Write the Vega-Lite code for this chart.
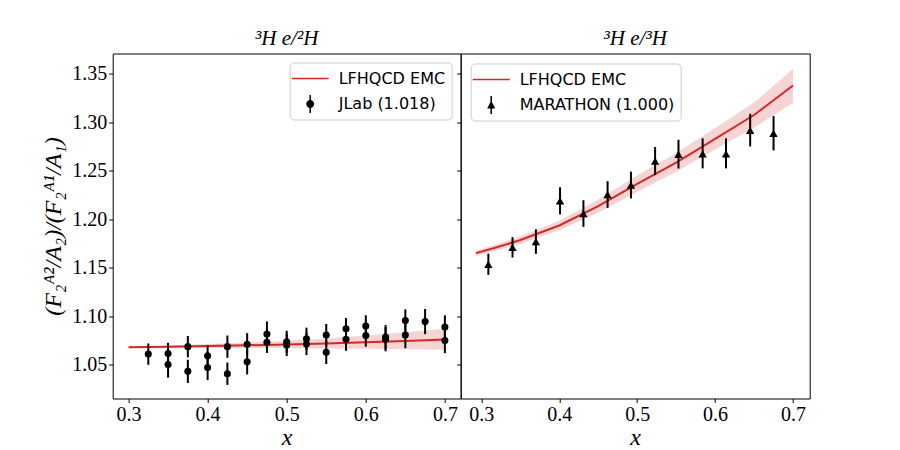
{
  "$schema": "https://vega.github.io/schema/vega-lite/v6.json",
  "background": "white",
  "autosize": {"type": "none"},
  "padding": {"left": 112.7, "top": 53.5, "right": 787.3, "bottom": 396.5},
  "bounds": "flush",
  "spacing": 0,
  "config": {
    "view": {"stroke": "black", "strokeWidth": 1},
    "axis": {
      "grid": false,
      "domain": false,
      "tickColor": "black",
      "tickSize": 4,
      "tickWidth": 1,
      "labelFont": "Liberation Serif",
      "labelFontSize": 20,
      "labelColor": "black",
      "labelPadding": 2,
      "titleFont": "Liberation Serif",
      "titleFontWeight": "normal",
      "titleColor": "black"
    },
    "title": {"font": "Liberation Serif", "fontStyle": "italic", "fontWeight": "normal", "fontSize": 21, "color": "black", "offset": 5, "anchor": "middle"},
    "legend": {
      "title": null,
      "padding": 6,
      "fillColor": "white",
      "strokeColor": "#cccccc",
      "cornerRadius": 4,
      "labelFont": "DejaVu Sans",
      "labelFontSize": 16,
      "labelColor": "black",
      "symbolSize": 400,
      "symbolStrokeWidth": 0,
      "labelOffset": 23,
      "rowPadding": 7.5
    }
  },
  "datasets": {
    "jcurve": [
      {"x": 0.30, "y": 1.0678, "lo": 1.0671, "hi": 1.0686},
      {"x": 0.35, "y": 1.0684, "lo": 1.0672, "hi": 1.0698},
      {"x": 0.40, "y": 1.0691, "lo": 1.0672, "hi": 1.0712},
      {"x": 0.45, "y": 1.0699, "lo": 1.0671, "hi": 1.0728},
      {"x": 0.50, "y": 1.0708, "lo": 1.0669, "hi": 1.0747},
      {"x": 0.55, "y": 1.0718, "lo": 1.0667, "hi": 1.0770},
      {"x": 0.60, "y": 1.0730, "lo": 1.0664, "hi": 1.0800},
      {"x": 0.65, "y": 1.0744, "lo": 1.0659, "hi": 1.0833},
      {"x": 0.70, "y": 1.0760, "lo": 1.0652, "hi": 1.0870}
    ],
    "jlab": [
      {"x": 0.325, "y": 1.0608, "lo": 1.0498, "hi": 1.0718},
      {"x": 0.35, "y": 1.0615, "lo": 1.0505, "hi": 1.0725},
      {"x": 0.35, "y": 1.0500, "lo": 1.0365, "hi": 1.0635},
      {"x": 0.375, "y": 1.0685, "lo": 1.0575, "hi": 1.0795},
      {"x": 0.375, "y": 1.0430, "lo": 1.0310, "hi": 1.0550},
      {"x": 0.40, "y": 1.0590, "lo": 1.0480, "hi": 1.0700},
      {"x": 0.40, "y": 1.0470, "lo": 1.0340, "hi": 1.0600},
      {"x": 0.425, "y": 1.0685, "lo": 1.0570, "hi": 1.0800},
      {"x": 0.425, "y": 1.0406, "lo": 1.0291, "hi": 1.0521},
      {"x": 0.45, "y": 1.0710, "lo": 1.0595, "hi": 1.0825},
      {"x": 0.45, "y": 1.0528, "lo": 1.0398, "hi": 1.0658},
      {"x": 0.475, "y": 1.0815, "lo": 1.0685, "hi": 1.0945},
      {"x": 0.475, "y": 1.0730, "lo": 1.0620, "hi": 1.0840},
      {"x": 0.50, "y": 1.0734, "lo": 1.0619, "hi": 1.0849},
      {"x": 0.50, "y": 1.0703, "lo": 1.0588, "hi": 1.0818},
      {"x": 0.525, "y": 1.0766, "lo": 1.0651, "hi": 1.0881},
      {"x": 0.525, "y": 1.0713, "lo": 1.0598, "hi": 1.0828},
      {"x": 0.55, "y": 1.0804, "lo": 1.0689, "hi": 1.0919},
      {"x": 0.55, "y": 1.0626, "lo": 1.0506, "hi": 1.0746},
      {"x": 0.575, "y": 1.0870, "lo": 1.0760, "hi": 1.0980},
      {"x": 0.575, "y": 1.0762, "lo": 1.0642, "hi": 1.0882},
      {"x": 0.60, "y": 1.0899, "lo": 1.0789, "hi": 1.1009},
      {"x": 0.60, "y": 1.0800, "lo": 1.0685, "hi": 1.0915},
      {"x": 0.625, "y": 1.0783, "lo": 1.0658, "hi": 1.0908},
      {"x": 0.625, "y": 1.0762, "lo": 1.0637, "hi": 1.0887},
      {"x": 0.65, "y": 1.0955, "lo": 1.0840, "hi": 1.1070},
      {"x": 0.65, "y": 1.0804, "lo": 1.0669, "hi": 1.0939},
      {"x": 0.675, "y": 1.0944, "lo": 1.0814, "hi": 1.1074},
      {"x": 0.70, "y": 1.0888, "lo": 1.0768, "hi": 1.1008},
      {"x": 0.70, "y": 1.0748, "lo": 1.0618, "hi": 1.0878}
    ],
    "mcurve": [
      {"x": 0.293, "y": 1.1650, "lo": 1.1623, "hi": 1.1677},
      {"x": 0.32, "y": 1.1710, "lo": 1.1678, "hi": 1.1742},
      {"x": 0.35, "y": 1.1785, "lo": 1.1747, "hi": 1.1823},
      {"x": 0.40, "y": 1.1935, "lo": 1.1885, "hi": 1.1985},
      {"x": 0.45, "y": 1.2135, "lo": 1.2067, "hi": 1.2203},
      {"x": 0.50, "y": 1.2365, "lo": 1.2280, "hi": 1.2450},
      {"x": 0.55, "y": 1.2585, "lo": 1.2490, "hi": 1.2680},
      {"x": 0.60, "y": 1.2830, "lo": 1.2720, "hi": 1.2940},
      {"x": 0.65, "y": 1.3075, "lo": 1.2945, "hi": 1.3205},
      {"x": 0.70, "y": 1.3379, "lo": 1.3199, "hi": 1.3549}
    ],
    "marathon": [
      {"x": 0.309, "y": 1.1535, "lo": 1.1425, "hi": 1.1645},
      {"x": 0.340, "y": 1.1710, "lo": 1.1605, "hi": 1.1815},
      {"x": 0.370, "y": 1.1769, "lo": 1.1642, "hi": 1.1896},
      {"x": 0.401, "y": 1.2190, "lo": 1.2050, "hi": 1.2330},
      {"x": 0.431, "y": 1.2058, "lo": 1.1920, "hi": 1.2196},
      {"x": 0.462, "y": 1.2255, "lo": 1.2117, "hi": 1.2393},
      {"x": 0.492, "y": 1.2353, "lo": 1.2215, "hi": 1.2491},
      {"x": 0.523, "y": 1.2600, "lo": 1.2455, "hi": 1.2745},
      {"x": 0.553, "y": 1.2668, "lo": 1.2523, "hi": 1.2820},
      {"x": 0.584, "y": 1.2675, "lo": 1.2525, "hi": 1.2835},
      {"x": 0.614, "y": 1.2675, "lo": 1.2525, "hi": 1.2835},
      {"x": 0.645, "y": 1.2918, "lo": 1.2751, "hi": 1.3088},
      {"x": 0.675, "y": 1.2887, "lo": 1.2710, "hi": 1.3064}
    ]
  },
  "resolve": {
    "scale": {"x": "independent", "y": "independent", "color": "independent", "shape": "independent"},
    "axis": {"x": "independent", "y": "independent"},
    "legend": {"color": "independent", "shape": "independent"}
  },
  "hconcat": [
    {
      "width": 348,
      "height": 345,
      "title": {"text": "³H e/²H"},
      "layer": [
        {
          "data": {"name": "jcurve"},
          "mark": {"type": "area", "color": "#d62728", "opacity": 0.2},
          "encoding": {
            "x": {"field": "x", "type": "quantitative", "title": "x",
              "scale": {"domain": [0.28, 0.72], "nice": false, "zero": false},
              "axis": {"values": [0.3, 0.4, 0.5, 0.6, 0.7], "format": ".1f", "titleFontSize": 24, "titleFontStyle": "italic", "titleBaseline": "alphabetic", "titlePadding": 20}},
            "y": {"field": "lo", "type": "quantitative", "title": "(F₂ᴬ²/A₂)/(F₂ᴬ¹/A₁)",
              "scale": {"domain": [1.015, 1.371], "nice": false, "zero": false},
              "axis": {"values": [1.05, 1.10, 1.15, 1.20, 1.25, 1.30, 1.35], "format": ".2f", "titleFontSize": 24, "titleFontStyle": "italic", "titlePadding": 6}},
            "y2": {"field": "hi"}
          }
        },
        {
          "data": {"name": "jcurve"},
          "mark": {"type": "line", "color": "#d62728", "strokeWidth": 2},
          "encoding": {
            "x": {"field": "x", "type": "quantitative", "title": "x"},
            "y": {"field": "y", "type": "quantitative", "title": "(F₂ᴬ²/A₂)/(F₂ᴬ¹/A₁)"}
          }
        },
        {
          "data": {"name": "jlab"},
          "mark": {"type": "rule", "color": "black", "strokeWidth": 2},
          "encoding": {
            "x": {"field": "x", "type": "quantitative", "title": "x"},
            "y": {"field": "lo", "type": "quantitative", "title": "(F₂ᴬ²/A₂)/(F₂ᴬ¹/A₁)"},
            "y2": {"field": "hi"}
          }
        },
        {
          "data": {"name": "jlab"},
          "mark": {"type": "point", "shape": "circle", "filled": true, "color": "black", "opacity": 1, "size": 50},
          "encoding": {
            "x": {"field": "x", "type": "quantitative", "title": "x"},
            "y": {"field": "y", "type": "quantitative", "title": "(F₂ᴬ²/A₂)/(F₂ᴬ¹/A₁)"}
          }
        },
        {
          "data": {"values": [{"s": "LFHQCD EMC"}, {"s": "JLab (1.018)"}]},
          "mark": {"type": "point", "filled": true, "opacity": 0},
          "encoding": {
            "color": {"field": "s", "type": "nominal",
              "scale": {"domain": ["LFHQCD EMC", "JLab (1.018)"], "range": ["#d62728", "black"]},
              "legend": {"orient": "top-right", "offset": 9,
                "encode": {"symbols": {"update": {"opacity": {"value": 1}, "fillOpacity": {"value": 1}}}}}},
            "shape": {"field": "s", "type": "nominal",
              "scale": {"domain": ["LFHQCD EMC", "JLab (1.018)"],
                "range": ["M-1.4,-0.075H2.3V0.075H-1.4Z", "M0.05,0A0.4,0.4 0 1,1 0.85,0A0.4,0.4 0 1,1 0.05,0ZM0.375,-0.9H0.525V0.9H0.375Z"]}}
          }
        }
      ]
    },
    {
      "width": 349,
      "height": 345,
      "title": {"text": "³H e/³H"},
      "layer": [
        {
          "data": {"name": "mcurve"},
          "mark": {"type": "area", "color": "#d62728", "opacity": 0.2},
          "encoding": {
            "x": {"field": "x", "type": "quantitative", "title": "x",
              "scale": {"domain": [0.2735, 0.7214], "nice": false, "zero": false},
              "axis": {"values": [0.3, 0.4, 0.5, 0.6, 0.7], "format": ".1f", "titleFontSize": 24, "titleFontStyle": "italic", "titleBaseline": "alphabetic", "titlePadding": 20}},
            "y": {"field": "lo", "type": "quantitative", "title": null,
              "scale": {"domain": [1.015, 1.371], "nice": false, "zero": false},
              "axis": {"values": [1.05, 1.10, 1.15, 1.20, 1.25, 1.30, 1.35], "labels": false, "title": null}},
            "y2": {"field": "hi"}
          }
        },
        {
          "data": {"name": "mcurve"},
          "mark": {"type": "line", "color": "#d62728", "strokeWidth": 2},
          "encoding": {
            "x": {"field": "x", "type": "quantitative", "title": "x"},
            "y": {"field": "y", "type": "quantitative", "title": null}
          }
        },
        {
          "data": {"name": "marathon"},
          "mark": {"type": "rule", "color": "black", "strokeWidth": 2},
          "encoding": {
            "x": {"field": "x", "type": "quantitative", "title": "x"},
            "y": {"field": "lo", "type": "quantitative", "title": null},
            "y2": {"field": "hi"}
          }
        },
        {
          "data": {"name": "marathon"},
          "mark": {"type": "point", "shape": "triangle-up", "filled": true, "color": "black", "opacity": 1, "size": 70},
          "encoding": {
            "x": {"field": "x", "type": "quantitative", "title": "x"},
            "y": {"field": "y", "type": "quantitative", "title": null}
          }
        },
        {
          "data": {"values": [{"s": "LFHQCD EMC"}, {"s": "MARATHON (1.000)"}]},
          "mark": {"type": "point", "filled": true, "opacity": 0},
          "encoding": {
            "color": {"field": "s", "type": "nominal",
              "scale": {"domain": ["LFHQCD EMC", "MARATHON (1.000)"], "range": ["#d62728", "black"]},
              "legend": {"orient": "top-left", "offset": 10,
                "encode": {"symbols": {"update": {"opacity": {"value": 1}, "fillOpacity": {"value": 1}}}}}},
            "shape": {"field": "s", "type": "nominal",
              "scale": {"domain": ["LFHQCD EMC", "MARATHON (1.000)"],
                "range": ["M-1.4,-0.075H2.3V0.075H-1.4Z", "M0.45,-0.45L0.85,0.35L0.05,0.35ZM0.375,-0.9H0.525V0.9H0.375Z"]}}
          }
        }
      ]
    }
  ]
}
